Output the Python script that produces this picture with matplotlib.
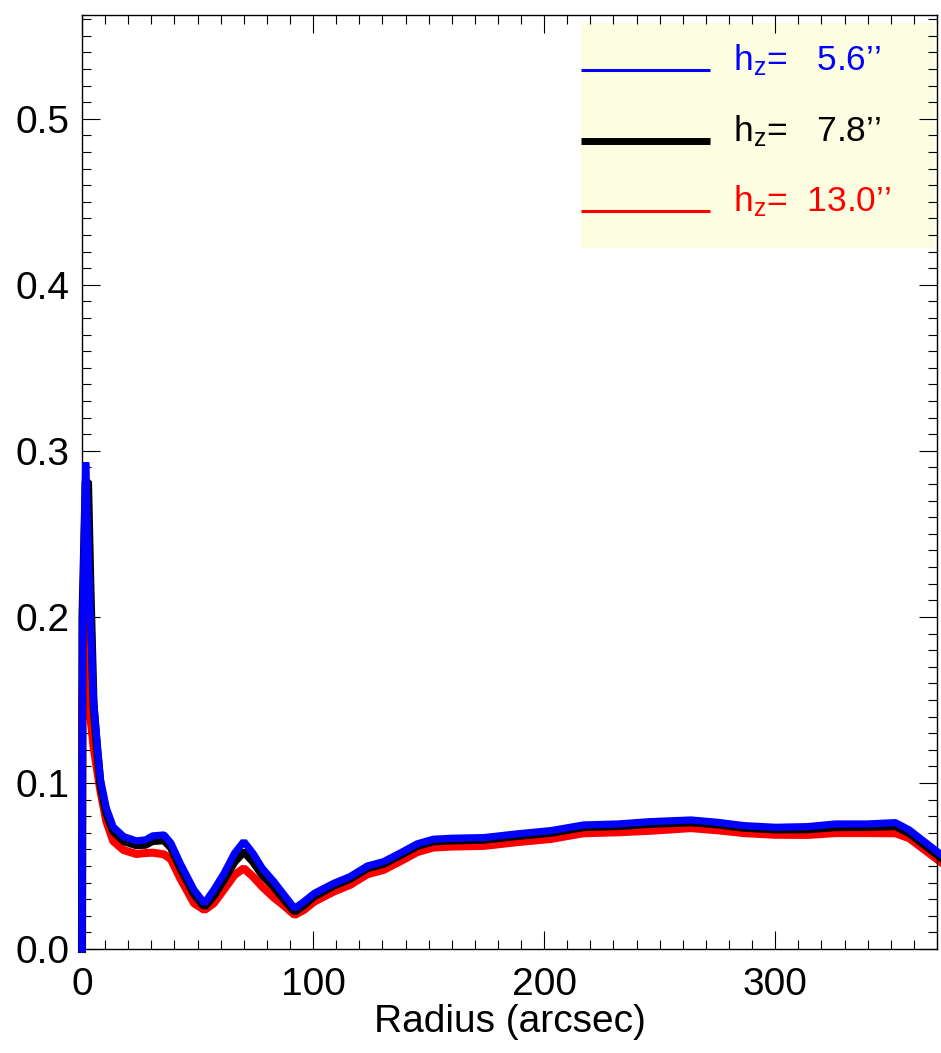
import numpy as np
import matplotlib
matplotlib.use('Agg')
import matplotlib.pyplot as plt
from matplotlib.ticker import MultipleLocator, FormatStrFormatter
from matplotlib.patches import Rectangle

plt.rcParams['font.family'] = ['Liberation Sans', 'DejaVu Sans']
plt.rcParams['mathtext.fontset'] = 'custom'
plt.rcParams['mathtext.rm'] = 'Liberation Sans'
plt.rcParams['mathtext.it'] = 'Liberation Sans:italic'

# radius (arcsec) sampled along the profiles
radius = [0, 0.2, 1.6, 2.6, 3.6, 5, 6.5, 8, 10.5, 13.5, 18,
          23.5, 27.5, 30.5, 35.5, 38.5, 42.5, 48.5, 53, 57, 61.5,
          66, 70, 74, 78, 83, 87.5, 92, 96, 100.5, 109,
          116, 123.5, 130.5, 138, 145, 152, 160, 174, 188, 203,
          217, 232, 246, 263.5, 275, 286.5, 300, 314, 326, 340,
          352, 358, 372]

# h_z = 5.6''
prof_blue = [0.0, 0.19, 0.293, 0.2465, 0.200, 0.150, 0.125, 0.102, 0.085, 0.0735, 0.0677,
             0.0651, 0.0657, 0.0681, 0.0687, 0.0637, 0.0516, 0.0355, 0.0275, 0.0355, 0.0456,
             0.0576, 0.0647, 0.0576, 0.0486, 0.0406, 0.0325, 0.0245, 0.0285, 0.0335, 0.0396,
             0.0436, 0.0500, 0.0526, 0.0580, 0.0633, 0.0661, 0.0667, 0.0671, 0.0693, 0.0713,
             0.0747, 0.0753, 0.0767, 0.0777, 0.0763, 0.0743, 0.0733, 0.0737, 0.0753, 0.0753,
             0.0761, 0.0717, 0.0566]
# h_z = 7.8''
prof_black = [0.0, 0.20, 0.2815, 0.2815, 0.220, 0.147, 0.121, 0.099, 0.082, 0.071, 0.065,
              0.0625, 0.0628, 0.065, 0.0655, 0.061, 0.049, 0.033, 0.0255, 0.032, 0.042,
              0.0525, 0.0586, 0.0526, 0.0446, 0.0375, 0.0298, 0.0225, 0.0265, 0.0318, 0.0382,
              0.0423, 0.0487, 0.0513, 0.0567, 0.0620, 0.0648, 0.0654, 0.0658, 0.0680, 0.0700,
              0.0734, 0.0740, 0.0753, 0.0763, 0.0750, 0.0730, 0.0720, 0.0721, 0.0734, 0.0735,
              0.0740, 0.0698, 0.0548]
# h_z = 13.0''
prof_red = [0.0, 0.15, 0.224, 0.170, 0.140, 0.122, 0.108, 0.095, 0.077, 0.065, 0.0596,
            0.0572, 0.0578, 0.058, 0.057, 0.054, 0.0426, 0.0275, 0.0235, 0.0275, 0.036,
            0.0446, 0.0486, 0.0436, 0.0375, 0.031, 0.026, 0.0205, 0.0235, 0.0285, 0.0346,
            0.0386, 0.045, 0.0476, 0.053, 0.0583, 0.0611, 0.0617, 0.0621, 0.0643, 0.0663,
            0.0697, 0.0703, 0.0712, 0.0728, 0.0715, 0.0698, 0.0688, 0.0687, 0.0698, 0.0698,
            0.0697, 0.0667, 0.0520]

hz_values = ['5.6', '7.8', '13.0']

fig = plt.figure(figsize=(9.41, 10.53), dpi=100)
ax = fig.add_axes([82/941, 104/1053, 855/941, 934/1053])

# drawing order red, black, blue (blue ends on top)
ax.plot(radius, prof_red, color='red', lw=5.8, solid_joinstyle='bevel', clip_on=False, zorder=2)
ax.plot(radius, prof_black, color='black', lw=5.8, solid_joinstyle='bevel', clip_on=False, zorder=3)
ax.plot(radius, prof_blue, color='blue', lw=5.2, solid_joinstyle='bevel', clip_on=False, zorder=4)

ax.set_xlim(0, 370)
ax.set_ylim(0, 0.5625)
ax.xaxis.set_major_locator(MultipleLocator(100))
ax.xaxis.set_minor_locator(MultipleLocator(10))
ax.yaxis.set_major_locator(MultipleLocator(0.1))
ax.yaxis.set_minor_locator(MultipleLocator(0.01))
ax.xaxis.set_major_formatter(FormatStrFormatter('%d'))
ax.yaxis.set_major_formatter(FormatStrFormatter('%.1f'))
ax.tick_params(which='both', direction='in', top=True, right=True, width=0.8, labelsize=28)
ax.tick_params(which='major', length=13)
ax.tick_params(which='minor', length=6.5)
ax.tick_params(axis='x', pad=13)
ax.tick_params(axis='y', pad=9)
for s in ax.spines.values():
    s.set_linewidth(1)

ax.set_xlabel('Radius (arcsec)', fontsize=28, labelpad=1)

# legend box
ax.add_patch(Rectangle((0.5836, 0.7505), 0.4141, 0.2409, transform=ax.transAxes,
                       facecolor='#fdfde1', edgecolor='none', zorder=1))
leg_y = [0.9411, 0.8651, 0.7901]
leg_col = ['blue', 'black', 'red']
leg_lw = [2.2, 5, 2.2]
for i in range(3):
    ax.plot([0.5836, 0.7345], [leg_y[i], leg_y[i]], color=leg_col[i], lw=leg_lw[i],
            solid_capstyle='butt', transform=ax.transAxes, zorder=5)
    ax.text(0.7614, leg_y[i], 'h$_\\mathregular{z}$= %5s\u2019\u2019' % hz_values[i].rjust(5),
            color=leg_col[i], fontsize=25.5, va='baseline', ha='left', transform=ax.transAxes, zorder=5)

fig.savefig('out.png', dpi=100)
